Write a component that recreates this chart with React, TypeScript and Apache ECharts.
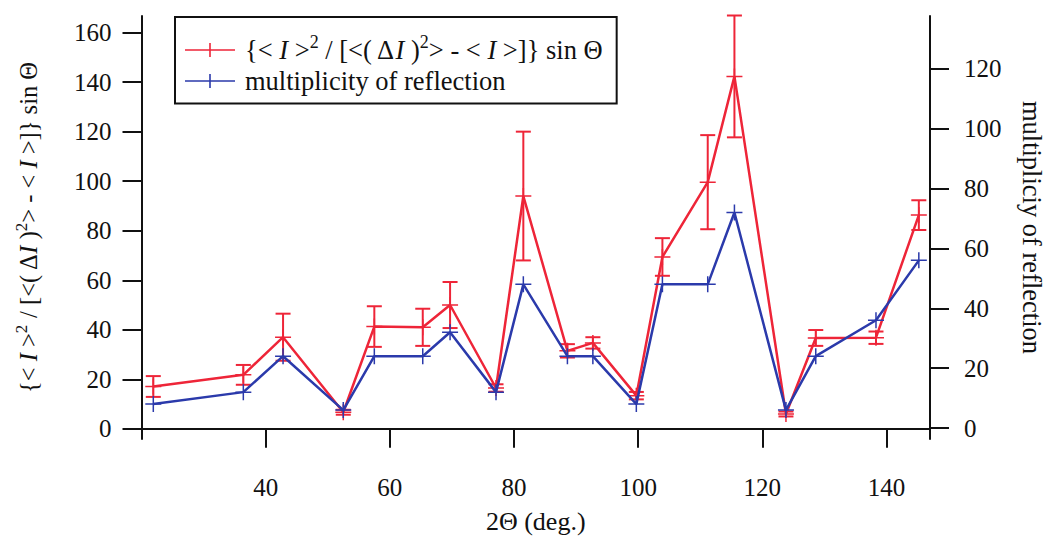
import React, { useEffect, useRef } from "react";
import * as echarts from "echarts";

const twoTheta = [21.9, 36.4, 42.8, 52.5, 57.5, 65.3, 69.7, 77.1, 81.5, 88.6, 92.7, 99.7, 103.9, 111.2, 115.5, 123.8, 128.6, 138.3, 145.2];
const ratio = [17.1, 21.8, 37, 6.7, 41.3, 41, 50, 16.5, 94, 31.5, 34.7, 13.4, 69.4, 99.6, 142.3, 6, 36.7, 36.8, 86.3];
const ratioErr = [4.2, 4, 9.5, 1, 8.2, 7.5, 9.3, 1.5, 26, 2.7, 2.3, 1.5, 7.6, 19, 24.6, 1, 3.2, 2.5, 6];
const multiplicity = [8, 12, 24, 6, 24, 24, 32, 12, 48, 24, 24, 8, 48, 48, 72, 6, 24, 36, 56];

const xTicks = [40, 60, 80, 100, 120, 140];
const leftTicks = [0, 20, 40, 60, 80, 100, 120, 140, 160];
const rightTicks = [0, 20, 40, 60, 80, 100, 120];

const RED = "#ee2538";
const BLUE = "#2b3aab";
const FONT = "Liberation Serif";

const RATIO_NAME = "ratio";
const MULT_NAME = "multiplicity of reflection";

const ratioRich =
  "{< {i|I} >{s|2} / [<( Δ{i|I} ){s|2}> - < {i|I} >]} sin Θ";

const crossSymbol = "path://M0,7.25h16v1.5h-16z M7.25,0h1.5v16h-1.5z";
const legendIcon = "path://M0,6.2h50v1.6h-50z M24.2,0h1.6v14h-1.6z";

function richStyles(size: number) {
  return {
    t: { fontFamily: FONT, fontSize: size, color: "#111" },
    i: { fontFamily: FONT, fontSize: size, fontStyle: "italic", color: "#111" },
    s: { fontFamily: FONT, fontSize: Math.round(size * 0.68), color: "#111", verticalAlign: "top", padding: [0, 0, Math.round(size * 0.6), 0] },
  };
}

export default function App() {
  const ref = useRef<HTMLDivElement>(null);
  useEffect(() => {
    if (!ref.current) return;
    const chart = echarts.init(ref.current, null, { renderer: "svg" });
    const axisCommon = {
      axisLine: { show: true, lineStyle: { color: "#111", width: 2 } },
      axisTick: { show: true, inside: false, length: 19, lineStyle: { color: "#111", width: 2 } },
      splitLine: { show: false },
    };
    chart.setOption({
      animation: false,
      backgroundColor: "#fff",
      textStyle: { fontFamily: FONT },
      grid: { left: 141.5, right: 122, top: 16, bottom: 97, containLabel: false },
      legend: {
        left: 175,
        top: 17,
        orient: "vertical",
        backgroundColor: "#fff",
        borderColor: "#111",
        borderWidth: 2,
        borderRadius: 0,
        padding: [16, 14, 9, 10],
        itemGap: 4,
        itemWidth: 50,
        itemHeight: 14,
        data: [
          { name: RATIO_NAME, icon: legendIcon, itemStyle: { color: RED } },
          { name: MULT_NAME, icon: legendIcon, itemStyle: { color: BLUE } },
        ],
        formatter: (n: string) => (n === RATIO_NAME ? ratioRich : n),
        textStyle: { fontFamily: FONT, fontSize: 26.5, color: "#111", padding: [0, 0, 0, 5], rich: richStyles(26.5) },
      },
      xAxis: {
        type: "value",
        min: 20,
        max: 147,
        ...axisCommon,
        axisTick: { ...axisCommon.axisTick, customValues: xTicks },
        axisLabel: { customValues: xTicks, fontFamily: FONT, fontSize: 25, color: "#111", margin: 36 },
        name: "2Θ (deg.)",
        nameLocation: "middle",
        nameGap: 69,
        nameTextStyle: { fontFamily: FONT, fontSize: 26, color: "#111" },
      },
      yAxis: [
        {
          type: "value",
          position: "left",
          min: -4.1,
          max: 166.7,
          ...axisCommon,
          axisTick: { ...axisCommon.axisTick, customValues: leftTicks },
          axisLabel: { customValues: leftTicks, fontFamily: FONT, fontSize: 25, color: "#111", margin: 30 },
          name: ratioRich,
          nameLocation: "middle",
          nameRotate: 90,
          nameGap: 97,
          nameTextStyle: { fontFamily: FONT, fontSize: 24.5, color: "#111", rich: richStyles(24.5) },
        },
        {
          type: "value",
          position: "right",
          min: -3.65,
          max: 137.6,
          ...axisCommon,
          axisTick: { ...axisCommon.axisTick, customValues: rightTicks },
          axisLabel: { customValues: rightTicks, fontFamily: FONT, fontSize: 25, color: "#111", margin: 34 },
          name: "multipliciy of reflection",
          nameLocation: "middle",
          nameRotate: -90,
          nameGap: 88,
          nameTextStyle: { fontFamily: FONT, fontSize: 26.5, color: "#111" },
        },
      ],
      series: [
        {
          type: "custom",
          name: "errorbars",
          xAxisIndex: 0,
          yAxisIndex: 0,
          z: 2,
          data: twoTheta.map((x, i) => [x, ratio[i] - ratioErr[i], ratio[i] + ratioErr[i]]),
          encode: { x: 0, y: [1, 2] },
          renderItem: (params: any, api: any) => {
            const x = api.value(0);
            const lo = api.coord([x, api.value(1)]);
            const hi = api.coord([x, api.value(2)]);
            const w = 7.5;
            const st = { stroke: RED, lineWidth: 2 };
            return {
              type: "group",
              children: [
                { type: "line", shape: { x1: lo[0], y1: lo[1], x2: hi[0], y2: hi[1] }, style: st },
                { type: "line", shape: { x1: lo[0] - w, y1: lo[1], x2: lo[0] + w, y2: lo[1] }, style: st },
                { type: "line", shape: { x1: hi[0] - w, y1: hi[1], x2: hi[0] + w, y2: hi[1] }, style: st },
              ],
            };
          },
        },
        {
          type: "line",
          name: RATIO_NAME,
          xAxisIndex: 0,
          yAxisIndex: 0,
          z: 3,
          data: twoTheta.map((x, i) => [x, ratio[i]]),
          symbol: crossSymbol,
          symbolSize: 16,
          showAllSymbol: true,
          lineStyle: { color: RED, width: 2.5 },
          itemStyle: { color: RED },
        },
        {
          type: "line",
          name: MULT_NAME,
          xAxisIndex: 0,
          yAxisIndex: 1,
          z: 4,
          data: twoTheta.map((x, i) => [x, multiplicity[i]]),
          symbol: crossSymbol,
          symbolSize: 16,
          showAllSymbol: true,
          lineStyle: { color: BLUE, width: 2.5 },
          itemStyle: { color: BLUE },
        },
      ],
    });
    return () => chart.dispose();
  }, []);
  return (
    <div
      ref={ref}
      style={{ position: "absolute", left: 0, top: 0, width: 1053, height: 539 }}
    />
  );
}
